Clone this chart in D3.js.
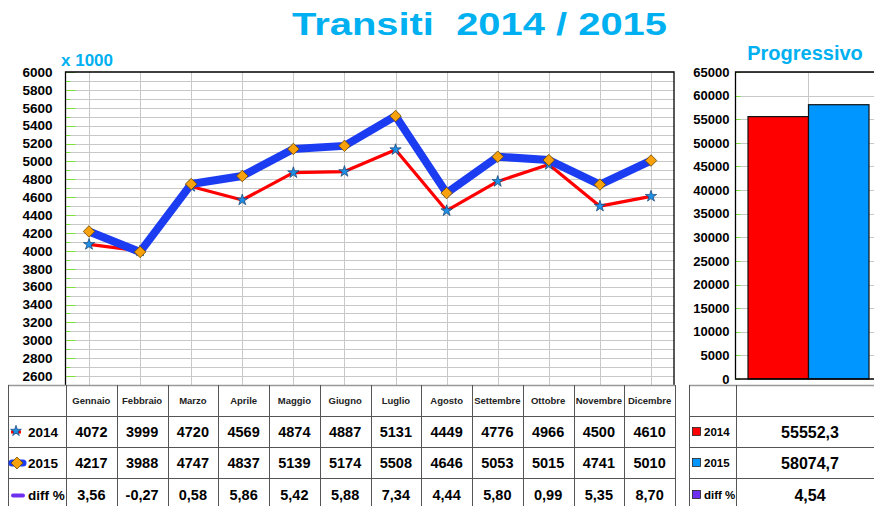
<!DOCTYPE html>
<html lang="it">
<head>
<meta charset="UTF-8">
<title>Transiti 2014 / 2015</title>
<script src="https://d3js.org/d3.v7.min.js"></script>
<style>
  body { margin: 0; background: #fff; }
  svg { display: block; font-family: "Liberation Sans", Arial, sans-serif; }
</style>
</head>
<body>
<svg id="chart" width="874" height="506"></svg>
<script>
// data
const months = ["Gennaio", "Febbraio", "Marzo", "Aprile", "Maggio", "Giugno",
  "Luglio", "Agosto", "Settembre", "Ottobre", "Novembre", "Dicembre"];
const v2014 = [4072, 3999, 4720, 4569, 4874, 4887, 5131, 4449, 4776, 4966, 4500, 4610];
const v2015 = [4217, 3988, 4747, 4837, 5139, 5174, 5508, 4646, 5053, 5015, 4741, 5010];
const diffPct = [3.56, -0.27, 0.58, 5.86, 5.42, 5.88, 7.34, 4.44, 5.80, 0.99, 5.35, 8.70];
const years = ["2014", "2015"];
const totals = [55552.3, 58074.7];
const totalDiff = 4.54;
const lineTicks = [2600, 2800, 3000, 3200, 3400, 3600, 3800, 4000, 4200, 4400, 4600, 4800,
  5000, 5200, 5400, 5600, 5800, 6000];
const barTicks = [0, 5000, 10000, 15000, 20000, 25000, 30000, 35000, 40000, 45000,
  50000, 55000, 60000, 65000];

const colors = {
  title: "#00b0f0",
  red: "#ff0000",
  blue: "#1c3cf2",
  star: "#1e8fe6",
  diamond: "#f7a20c",
  bar15: "#0096ff",
  purple: "#6f2ff0",
  grid: "#c8c8c8",
  tick: "#7ee03a",
  table: "#555"
};

const it = d3.formatLocale({ decimal: ",", thousands: ".", grouping: [3], currency: ["€", ""], minus: "-" });
const f2 = it.format(".2f");
const f1 = it.format(".1f");

const svg = d3.select("#chart");

// ---- titles
svg.append("text")
  .attr("x", 292).attr("y", 35)
  .attr("textLength", 375).attr("lengthAdjust", "spacingAndGlyphs")
  .attr("font-size", 31).attr("font-weight", "bold")
  .attr("fill", colors.title)
  .attr("xml:space", "preserve")
  .text("Transiti  2014 / 2015");

svg.append("text")
  .attr("x", 61).attr("y", 66)
  .attr("font-size", 17).attr("font-weight", "bold")
  .attr("fill", colors.title)
  .text("x 1000");

svg.append("text")
  .attr("x", 805).attr("y", 60)
  .attr("text-anchor", "middle")
  .attr("font-size", 20).attr("font-weight", "bold")
  .attr("fill", colors.title)
  .text("Progressivo");

// ---- line chart
const plot = { left: 65.5, right: 674, top: 72, bottom: 385 };

const x = d3.scalePoint().domain(months).range([89, 651]);
const y = d3.scaleLinear().domain([2500, 6000]).range([plot.bottom, plot.top]);

const lg = svg.append("g");

// horizontal grid every 100
lg.selectAll(".hg")
  .data(d3.range(2600, 6000, 100))
  .join("line")
  .attr("x1", plot.left).attr("x2", plot.right)
  .attr("y1", d => Math.round(y(d)) + 0.5).attr("y2", d => Math.round(y(d)) + 0.5)
  .attr("stroke", colors.grid);

// vertical grid at each month
lg.selectAll(".vg")
  .data(months)
  .join("line")
  .attr("x1", d => Math.round(x(d)) + 0.5).attr("x2", d => Math.round(x(d)) + 0.5)
  .attr("y1", plot.top).attr("y2", plot.bottom)
  .attr("stroke", colors.grid);

// green ticks
lg.selectAll(".gt")
  .data(d3.range(2600, 6001, 100))
  .join("line")
  .attr("x1", plot.left)
  .attr("x2", d => plot.left + (d % 200 === 0 ? 10 : 5))
  .attr("y1", d => Math.round(y(d)) + 0.5).attr("y2", d => Math.round(y(d)) + 0.5)
  .attr("stroke", colors.tick);

// frame
lg.append("path")
  .attr("d", `M${plot.left},${plot.bottom}V${plot.top}H${plot.right}V${plot.bottom}`)
  .attr("fill", "none").attr("stroke", "#000").attr("stroke-width", 1.3);

// y axis labels
const yAxis = lg.append("g")
  .attr("transform", `translate(${plot.left},0)`)
  .call(d3.axisLeft(y).tickValues(lineTicks).tickSize(0).tickPadding(13).tickFormat(d3.format("d")));
yAxis.select(".domain").remove();
yAxis.selectAll("text")
  .attr("font-family", "Liberation Sans, Arial, sans-serif")
  .attr("font-size", 13.5).attr("font-weight", "bold").attr("fill", "#000");

const line = d3.line().x((d, i) => x(months[i])).y(d => y(d));

lg.append("path").datum(v2014)
  .attr("d", line).attr("fill", "none")
  .attr("stroke", colors.red).attr("stroke-width", 3.2).attr("stroke-linejoin", "round");

lg.selectAll(".s14").data(v2014).join("path")
  .attr("transform", (d, i) => `translate(${x(months[i])},${y(d)})`)
  .attr("d", d3.symbol(d3.symbolStar, 40))
  .attr("fill", colors.star).attr("stroke", "#17406e").attr("stroke-width", 0.7);

lg.append("path").datum(v2015)
  .attr("d", line).attr("fill", "none")
  .attr("stroke", colors.blue).attr("stroke-width", 8).attr("stroke-linejoin", "round");

lg.selectAll(".s15").data(v2015).join("path")
  .attr("transform", (d, i) => `translate(${x(months[i])},${y(d)}) rotate(45)`)
  .attr("d", d3.symbol(d3.symbolSquare, 66))
  .attr("fill", colors.diamond).attr("stroke", "#6b4a00").attr("stroke-width", 0.8);

// ---- bar chart
const bp = { left: 735.5, right: 874, top: 72, bottom: 379 };
const bx = d3.scaleBand().domain(years).range([748, 869]).padding(0);
const by = d3.scaleLinear().domain([0, 65000]).range([bp.bottom, bp.top]);

const bg = svg.append("g");

bg.selectAll(".bh").data(barTicks.slice(1)).join("line")
  .attr("x1", bp.left).attr("x2", bp.right)
  .attr("y1", d => Math.round(by(d)) + 0.5).attr("y2", d => Math.round(by(d)) + 0.5)
  .attr("stroke", colors.grid);

bg.append("line")
  .attr("x1", 808.5).attr("x2", 808.5).attr("y1", bp.top).attr("y2", bp.bottom)
  .attr("stroke", colors.grid);

bg.selectAll(".bt").data(barTicks).join("line")
  .attr("x1", bp.left).attr("x2", bp.left + 5)
  .attr("y1", d => Math.round(by(d)) + 0.5).attr("y2", d => Math.round(by(d)) + 0.5)
  .attr("stroke", colors.tick);

bg.selectAll(".bar").data(totals).join("rect")
  .attr("x", (d, i) => bx(years[i]))
  .attr("y", d => by(d))
  .attr("width", bx.bandwidth())
  .attr("height", d => by(0) - by(d))
  .attr("fill", (d, i) => i === 0 ? colors.red : colors.bar15)
  .attr("stroke", "#111").attr("stroke-width", 1.2);

bg.append("path")
  .attr("d", `M${bp.right},${bp.top}H${bp.left}V${bp.bottom}H${bp.right}`)
  .attr("fill", "none").attr("stroke", "#000").attr("stroke-width", 1.3);

const bAxis = bg.append("g")
  .attr("transform", `translate(${bp.left},0)`)
  .call(d3.axisLeft(by).tickValues(barTicks).tickSize(0).tickPadding(6).tickFormat(d3.format("d")));
bAxis.select(".domain").remove();
bAxis.selectAll("text")
  .attr("font-family", "Liberation Sans, Arial, sans-serif")
  .attr("font-size", 13).attr("font-weight", "bold").attr("fill", "#000");

// ---- data table (left)
const rowY = [385, 416, 447, 478, 509];
const col = d3.scaleBand().domain(months).range([66, 675]);
const tg = svg.append("g");

tg.selectAll(".rl").data(rowY).join("line")
  .attr("x1", 8).attr("x2", 675)
  .attr("y1", d => d + 0.5).attr("y2", d => d + 0.5)
  .attr("stroke", (d, i) => i === 0 ? "#999" : colors.table)
  .attr("stroke-width", (d, i) => i === 0 ? 1.6 : 1);

tg.selectAll(".cl").data([8].concat(months.map(m => col(m))).concat([675])).join("line")
  .attr("x1", d => Math.round(d) + 0.5).attr("x2", d => Math.round(d) + 0.5)
  .attr("y1", rowY[0]).attr("y2", 506)
  .attr("stroke", colors.table);

tg.selectAll(".mh").data(months).join("text")
  .attr("x", d => col(d) + col.bandwidth() / 2).attr("y", 401)
  .attr("dy", "0.35em").attr("text-anchor", "middle")
  .attr("font-size", 9.5).attr("font-weight", "bold").attr("fill", "#222")
  .text(d => d);

const rows = [
  { vals: v2014.map(d3.format("d")), y: 432 },
  { vals: v2015.map(d3.format("d")), y: 463 },
  { vals: diffPct.map(f2), y: 495 }
];
rows.forEach(r => {
  tg.selectAll(null).data(r.vals).join("text")
    .attr("x", (d, i) => col(months[i]) + col.bandwidth() / 2).attr("y", r.y)
    .attr("dy", "0.35em").attr("text-anchor", "middle")
    .attr("font-size", 14.5).attr("font-weight", "bold").attr("fill", "#000")
    .text(d => d);
});

// legend cells
tg.append("line").attr("x1", 11).attr("x2", 21).attr("y1", 432).attr("y2", 432)
  .attr("stroke", colors.red).attr("stroke-width", 3);
tg.append("path").attr("transform", "translate(16,431)")
  .attr("d", d3.symbol(d3.symbolStar, 36))
  .attr("fill", colors.star).attr("stroke", "#17406e").attr("stroke-width", 0.7);
tg.append("line").attr("x1", 12).attr("x2", 23).attr("y1", 463).attr("y2", 463)
  .attr("stroke", colors.blue).attr("stroke-width", 7).attr("stroke-linecap", "round");
tg.append("path").attr("transform", "translate(17,463) rotate(45)")
  .attr("d", d3.symbol(d3.symbolSquare, 70))
  .attr("fill", colors.diamond).attr("stroke", "#6b4a00").attr("stroke-width", 0.8);
tg.append("line").attr("x1", 13).attr("x2", 23).attr("y1", 495.5).attr("y2", 495.5)
  .attr("stroke", colors.purple).attr("stroke-width", 4).attr("stroke-linecap", "round");

tg.selectAll(".lt").data(["2014", "2015", "diff %"]).join("text")
  .attr("x", 28).attr("y", (d, i) => rows[i].y)
  .attr("dy", "0.35em")
  .attr("font-size", 13.5).attr("font-weight", "bold").attr("fill", "#000")
  .text(d => d);

// ---- totals table (right)
const rg = svg.append("g");
rg.selectAll(".rr").data(rowY).join("line")
  .attr("x1", 689).attr("x2", 874)
  .attr("y1", d => d + 0.5).attr("y2", d => d + 0.5)
  .attr("stroke", (d, i) => i === 0 ? "#999" : colors.table)
  .attr("stroke-width", (d, i) => i === 0 ? 1.6 : 1);
rg.selectAll(".rc").data([689, 736]).join("line")
  .attr("x1", d => d + 0.5).attr("x2", d => d + 0.5)
  .attr("y1", rowY[0]).attr("y2", 506)
  .attr("stroke", colors.table);

const rightRows = [
  { label: "2014", color: colors.red, value: f1(totals[0]), y: 432 },
  { label: "2015", color: colors.bar15, value: f1(totals[1]), y: 463 },
  { label: "diff %", color: colors.purple, value: f2(totalDiff), y: 495 }
];
rg.selectAll(".sq").data(rightRows).join("rect")
  .attr("x", 692.5).attr("y", d => d.y - 4.5)
  .attr("width", 8).attr("height", 8)
  .attr("fill", d => d.color).attr("stroke", "#222").attr("stroke-width", 0.8);
rg.selectAll(".rlab").data(rightRows).join("text")
  .attr("x", 704).attr("y", d => d.y)
  .attr("dy", "0.35em")
  .attr("font-size", 11.5).attr("font-weight", "bold").attr("fill", "#000")
  .text(d => d.label);
rg.selectAll(".rval").data(rightRows).join("text")
  .attr("x", 810).attr("y", d => d.y)
  .attr("dy", "0.35em").attr("text-anchor", "middle")
  .attr("font-size", 16).attr("font-weight", "bold").attr("fill", "#000")
  .text(d => d.value);
</script>
</body>
</html>
